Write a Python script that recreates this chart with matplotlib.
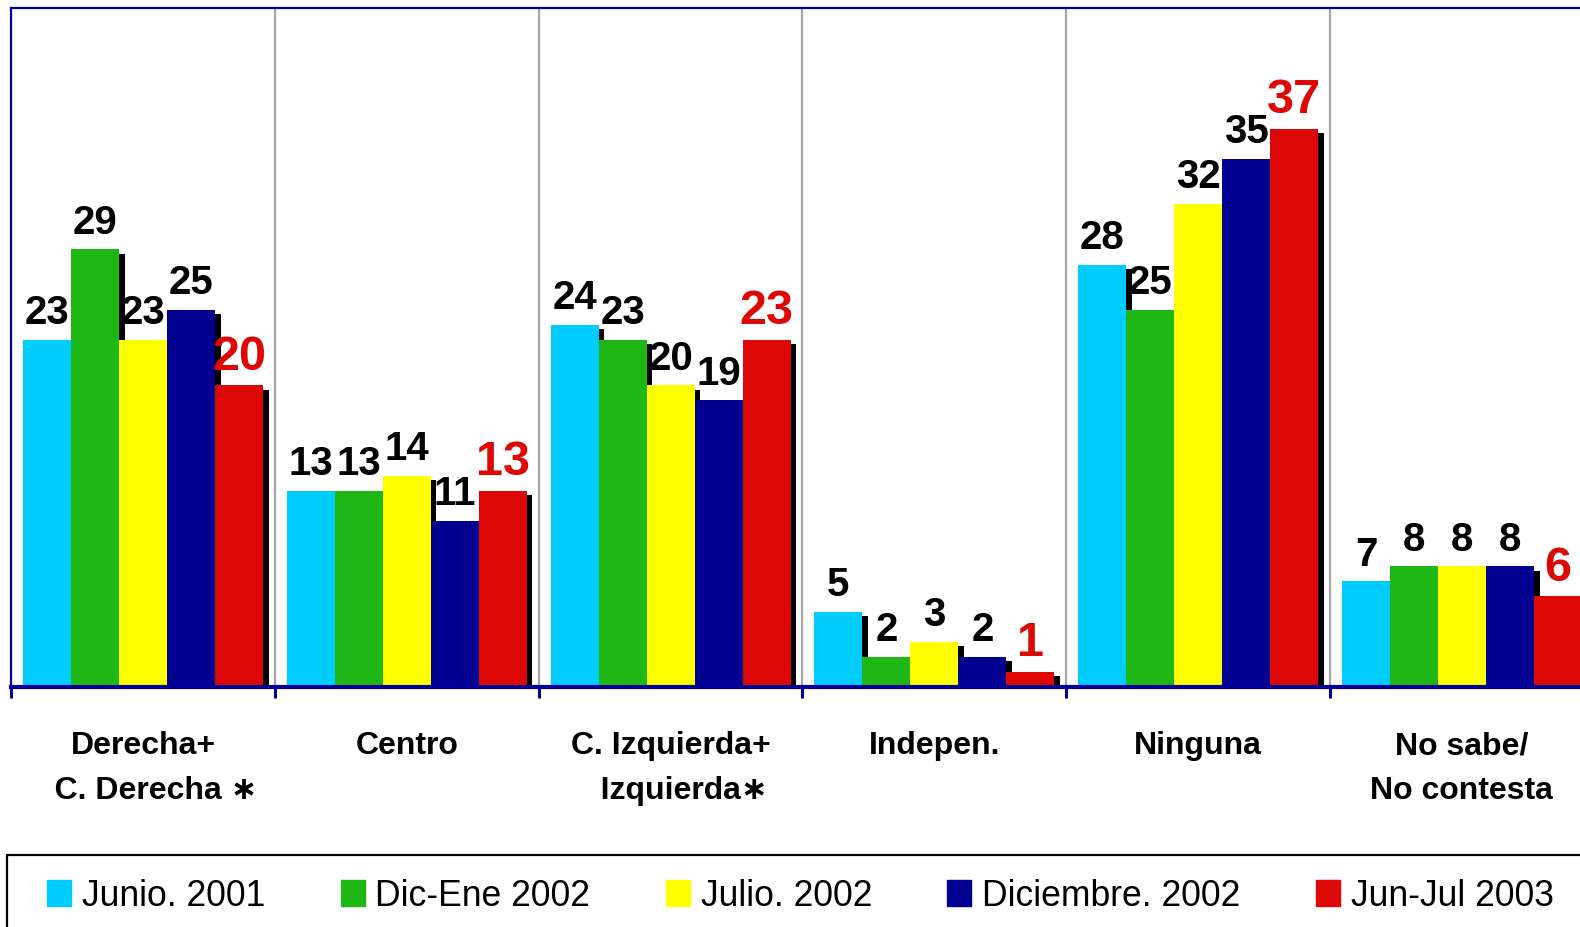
import matplotlib
matplotlib.use('Agg')
import matplotlib.pyplot as plt
import matplotlib.transforms as mtransforms
from matplotlib.patches import Rectangle

plt.rcParams['font.family'] = ['Liberation Sans', 'DejaVu Sans']

categories = ["Derecha+\n   C. Derecha \u2217", "Centro", "C. Izquierda+\n   Izquierda\u2217",
              "Indepen.", "Ninguna", "No sabe/\nNo contesta"]
series_names = ["Junio. 2001", "Dic-Ene 2002", "Julio. 2002", "Diciembre. 2002", "Jun-Jul 2003"]
junio_2001 = [23, 13, 24, 5, 28, 7]
dic_ene_2002 = [29, 13, 23, 2, 25, 8]
julio_2002 = [23, 14, 20, 3, 32, 8]
diciembre_2002 = [25, 11, 19, 2, 35, 8]
jun_jul_2003 = [20, 13, 23, 1, 37, 6]
series_values = [junio_2001, dic_ene_2002, julio_2002, diciembre_2002, jun_jul_2003]
colors = ['#00CCFF', '#1FB715', '#FFFF00', '#000090', '#DD0806']
label_colors = ['black', 'black', 'black', 'black', '#DD0806']
label_sizes = [29, 29, 29, 29, 35]

W, H = 1580, 928
fig = plt.figure(figsize=(W / 100, H / 100), dpi=100)
group_px = 263.8
ax = fig.add_axes([11 / W, 1 - 688 / H, 6 * group_px / W, (688 - 9) / H])
ax.set_xlim(0, len(categories))
ax.set_ylim(0, 45)

bw = 48 / group_px
off = 12 / group_px
shadow_tf = ax.transData + mtransforms.ScaledTranslation(0.055, -0.045, fig.dpi_scale_trans)

for j, vals in enumerate(series_values):
    xs = [i + off + j * bw for i in range(len(categories))]
    ax.bar(xs, vals, bw, align='edge', color='black', transform=shadow_tf, zorder=1, linewidth=0)
for j, vals in enumerate(series_values):
    xs = [i + off + j * bw for i in range(len(categories))]
    ax.bar(xs, vals, bw, align='edge', color=colors[j], zorder=2, linewidth=0)
    for x, v in zip(xs, vals):
        ax.annotate(str(v), xy=(x + bw / 2, v), xytext=(0, 12), textcoords='offset points',
                    ha='center', va='baseline', fontsize=label_sizes[j], fontweight='bold',
                    color=label_colors[j], zorder=4, annotation_clip=False)

for i, cat in enumerate(categories):
    ax.annotate(cat, xy=(i + 0.5, 0), xycoords=('data', 'axes fraction'), xytext=(0, -31),
                textcoords='offset points', ha='center', va='top', fontsize=23,
                fontweight='bold', linespacing=1.65, annotation_clip=False)

ax.set_xticks(range(len(categories) + 1))
ax.set_xticklabels([])
ax.set_yticks([])
ax.tick_params(axis='x', direction='out', length=8, width=2.2, color='#000099')
ax.set_axisbelow(True)
ax.grid(axis='x', which='major', color='#A6A6A6', linewidth=1.6)
navy = '#000099'
ax.spines['left'].set_color(navy)
ax.spines['left'].set_linewidth(1.6)
ax.spines['top'].set_color(navy)
ax.spines['top'].set_linewidth(1.6)
ax.spines['right'].set_color(navy)
ax.spines['bottom'].set_color(navy)
ax.spines['bottom'].set_linewidth(3)
ax.spines['bottom'].set_zorder(3)

handles = [Rectangle((0, 0), 1, 1, color=c) for c in colors]
fig.legend(handles, series_names, loc='center left', bbox_to_anchor=(47 / W, 1 - 897 / H),
           ncol=5, frameon=False, fontsize=25.6, handlelength=0.68, handleheight=0.73,
           handletextpad=0.3, columnspacing=2.12, borderpad=0, borderaxespad=0)
fig.add_artist(Rectangle((7 / W, -0.1), 1.2, (1 - 856 / H) + 0.1, transform=fig.transFigure,
                         fill=False, edgecolor='black', linewidth=1.6))

fig.savefig('out.png', dpi=100)
